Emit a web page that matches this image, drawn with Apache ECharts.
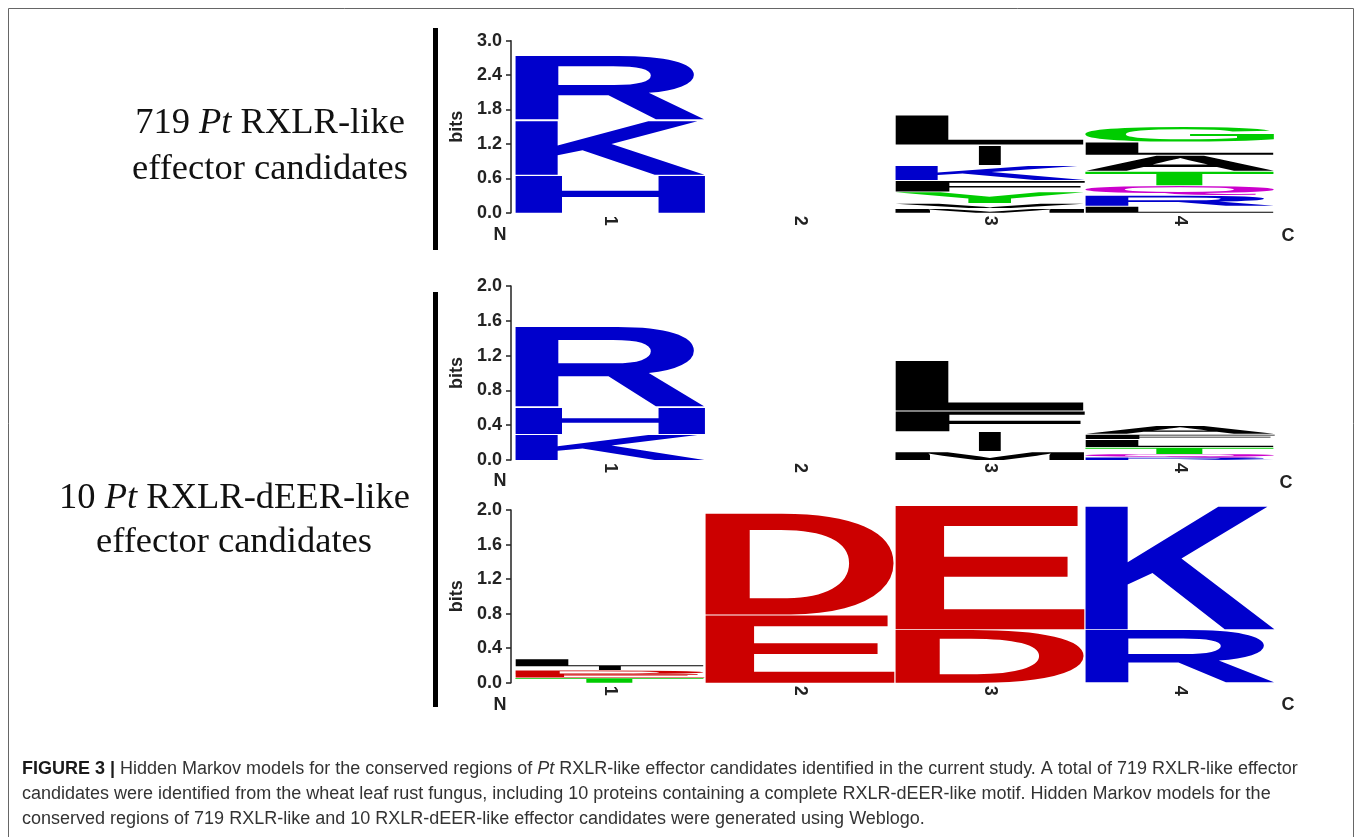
<!DOCTYPE html>
<html>
<head>
<meta charset="utf-8">
<script src="https://cdn.jsdelivr.net/npm/echarts@6/dist/echarts.min.js"></script>
<style>
html,body{margin:0;padding:0;background:#fff;}
#chart{width:1357px;height:837px;}
</style>
</head>
<body>
<div id="chart"></div>
<script>
// ---------- DATA ----------
const positions = ['1', '2', '3', '4'];
const bitsTicksA = { min: 0, max: 3.0, interval: 0.6 };
const bitsTicksB = { min: 0, max: 2.0, interval: 0.4 };

// Panel A: 719 Pt RXLR-like (letters stacked bottom -> top per position)
const aLetters = ['H', 'K', 'R', 'M', 'V', 'Y', 'F', 'K', 'I', 'L', 'L', 'R', 'Q', 'T', 'A', 'L', 'G'];
const aPos     = [0, 0, 0, 2, 2, 2, 2, 2, 2, 2, 3, 3, 3, 3, 3, 3, 3];
const aBits    = [0.66, 0.96, 1.13, 0.08, 0.09, 0.20, 0.20, 0.26, 0.36, 0.52, 0.12, 0.19, 0.17, 0.25, 0.28, 0.23, 0.27];

// Panel B: 10 Pt RXLR-dEER-like, RXLR region
const bLetters = ['K', 'H', 'R', 'M', 'I', 'F', 'L', 'R', 'Q', 'T', 'L', 'F', 'A'];
const bPos     = [0, 0, 0, 2, 2, 2, 2, 3, 3, 3, 3, 3, 3];
const bBits    = [0.30, 0.31, 0.93, 0.10, 0.23, 0.24, 0.58, 0.03, 0.04, 0.08, 0.09, 0.06, 0.10];

// Panel C: 10 Pt RXLR-dEER-like, dEER region
const cLetters = ['T', 'E', 'D', 'I', 'L', 'E', 'D', 'D', 'E', 'R', 'K'];
const cPos     = [0, 0, 0, 0, 0, 1, 1, 2, 2, 3, 3];
const cBits    = [0.06, 0.04, 0.05, 0.04, 0.09, 0.79, 1.18, 0.62, 1.44, 0.62, 1.44];

// ---------- STYLE ----------
const colorOf = function (ch) {
  if ('KRH'.indexOf(ch) >= 0) return '#0000CC';
  if ('DE'.indexOf(ch) >= 0) return '#CC0000';
  if ('GSTYC'.indexOf(ch) >= 0) return '#00CC00';
  if ('NQ'.indexOf(ch) >= 0) return '#CC00CC';
  return '#000000';
};
const widthFrac = { I: 0.12 };
const LOGO_FONT = 'bold 200px "Liberation Sans", Arial, sans-serif';
const mctx = document.createElement('canvas').getContext('2d');
const glyphCache = {};
function glyphBox(ch) {
  if (glyphCache[ch]) return glyphCache[ch];
  mctx.font = LOGO_FONT;
  mctx.textBaseline = 'middle';
  mctx.textAlign = 'left';
  const m = mctx.measureText(ch);
  const g = { L: m.actualBoundingBoxLeft, R: m.actualBoundingBoxRight, A: m.actualBoundingBoxAscent, D: m.actualBoundingBoxDescent };
  glyphCache[ch] = g;
  return g;
}

function stackData(letters, pos, bits) {
  const acc = {};
  return letters.map(function (ch, i) {
    const p = pos[i];
    const b0 = acc[p] || 0;
    const b1 = b0 + bits[i];
    acc[p] = b1;
    return [p, b0, b1];
  });
}

function logoSeries(idx, letters, pos, bits) {
  return {
    type: 'custom',
    xAxisIndex: idx,
    yAxisIndex: idx,
    clip: false,
    silent: true,
    encode: { x: 0, y: [1, 2] },
    data: stackData(letters, pos, bits),
    renderItem: function (params, api) {
      const ch = letters[params.dataIndex];
      const col = api.value(0);
      const pB = api.coord([col, api.value(1)]);
      const pT = api.coord([col, api.value(2)]);
      const bw = api.size([1, 0])[0] * (widthFrac[ch] || 1);
      const x0 = pB[0] - bw / 2, x1 = pB[0] + bw / 2;
      let yTop = pT[1];
      const yBot = pB[1];
      if (yBot - yTop > 4) yTop += 0.8;
      const g = glyphBox(ch);
      const sx = (x1 - x0) / (g.L + g.R);
      const sy = (yBot - yTop) / (g.A + g.D);
      return {
        type: 'text',
        x: x0 + g.L * sx,
        y: yTop + g.A * sy,
        scaleX: sx,
        scaleY: sy,
        style: { text: ch, font: LOGO_FONT, fill: colorOf(ch), align: 'left', verticalAlign: 'middle' }
      };
    }
  };
}

const grids = [
  { left: 515, top: 40.7, width: 760, height: 172 },
  { left: 515, top: 286, width: 760, height: 174 },
  { left: 515, top: 510, width: 760, height: 172.7 }
];
const axisFont = { fontFamily: '"Liberation Sans", Arial, sans-serif', fontWeight: 'bold', fontSize: 18, color: '#222' };

function xAx(i) {
  return {
    type: 'category', gridIndex: i, data: positions, boundaryGap: true,
    axisLine: { show: false }, axisTick: { show: false }, splitLine: { show: false },
    axisLabel: Object.assign({ rotate: -90, margin: 3, interval: 0 }, axisFont)
  };
}
function yAx(i, t) {
  return {
    type: 'value', gridIndex: i, min: t.min, max: t.max, interval: t.interval, offset: 4,
    name: 'bits', nameLocation: 'middle', nameGap: 34, nameRotate: 90,
    nameTextStyle: { fontFamily: '"Liberation Sans", Arial, sans-serif', fontWeight: 'bold', fontSize: 18, color: '#222' },
    axisLine: { show: true, lineStyle: { color: '#222', width: 1.5 } },
    axisTick: { show: true, length: 5, lineStyle: { color: '#222', width: 1.5 } },
    splitLine: { show: false },
    axisLabel: Object.assign({ margin: 9, formatter: function (v) { return v.toFixed(1); } }, axisFont)
  };
}

function endLabel(txt, x, y) {
  return { type: 'text', x: x, y: y, silent: true,
    style: { text: txt, font: 'bold 18px "Liberation Sans", Arial, sans-serif', fill: '#222', align: 'center', verticalAlign: 'middle' } };
}
const serif = '"Liberation Serif", "Times New Roman", serif';
const sans = '"Liberation Sans", Arial, sans-serif';
const capRich = {
  b: { fontFamily: sans, fontWeight: 'bold', fontSize: 18, fill: '#1a1a1a' },
  n: { fontFamily: sans, fontSize: 18, fill: '#333' },
  i: { fontFamily: sans, fontStyle: 'italic', fontSize: 18, fill: '#333' }
};
const labRich = {
  n: { fontFamily: serif, fontSize: 36.5, fill: '#111' },
  i: { fontFamily: serif, fontStyle: 'italic', fontSize: 36.5, fill: '#111' }
};
function richText(t, x, y, rich, align) {
  return { type: 'text', x: x, y: y, silent: true,
    style: { text: t, rich: rich, align: align || 'left', verticalAlign: 'middle' } };
}

const option = {
  animation: false,
  backgroundColor: '#fff',
  grid: grids,
  xAxis: [xAx(0), xAx(1), xAx(2)],
  yAxis: [yAx(0, bitsTicksA), yAx(1, bitsTicksB), yAx(2, bitsTicksB)],
  series: [
    logoSeries(0, aLetters, aPos, aBits),
    logoSeries(1, bLetters, bPos, bBits),
    logoSeries(2, cLetters, cPos, cBits)
  ],
  graphic: [
    { type: 'rect', silent: true, shape: { x: 8.5, y: 8.5, width: 1345, height: 840 }, style: { fill: null, stroke: '#666', lineWidth: 1 } },
    { type: 'rect', silent: true, shape: { x: 433, y: 28, width: 5, height: 222 }, style: { fill: '#000' } },
    { type: 'rect', silent: true, shape: { x: 433, y: 292, width: 5, height: 415 }, style: { fill: '#000' } },
    endLabel('N', 500, 235), endLabel('C', 1288, 236),
    endLabel('N', 500, 481), endLabel('C', 1286, 483),
    endLabel('N', 500, 705), endLabel('C', 1288, 705),
    richText('{n|719 }{i|Pt}{n| RXLR-like}', 270, 123, labRich, 'center'),
    richText('{n|effector candidates}', 270, 169, labRich, 'center'),
    richText('{n|10 }{i|Pt}{n| RXLR-dEER-like}', 234.5, 498, labRich, 'center'),
    richText('{n|effector candidates}', 234, 542, labRich, 'center'),
    richText('{b|FIGURE 3 |}{n| Hidden Markov models for the conserved regions of }{i|Pt}{n| RXLR-like effector candidates identified in the current study. A total of 719 RXLR-like effector}', 22, 769, capRich),
    richText('{n|candidates were identified from the wheat leaf rust fungus, including 10 proteins containing a complete RXLR-dEER-like motif. Hidden Markov models for the}', 22, 794, capRich),
    richText('{n|conserved regions of 719 RXLR-like and 10 RXLR-dEER-like effector candidates were generated using Weblogo.}', 22, 819, capRich)
  ]
};

const chart = echarts.init(document.getElementById('chart'), null, { renderer: 'canvas' });
chart.setOption(option);
</script>
</body>
</html>
